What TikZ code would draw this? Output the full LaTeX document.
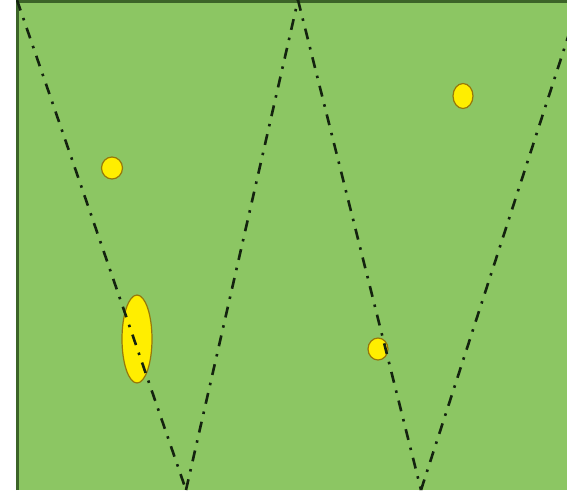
\documentclass[tikz,border=0pt]{standalone}
\usetikzlibrary{calc}
\definecolor{fieldgreen}{RGB}{140,198,99}
\definecolor{edgegreen}{RGB}{60,100,40}
\definecolor{spotfill}{RGB}{255,238,0}
\definecolor{spotedge}{RGB}{150,120,10}
\definecolor{pathcol}{RGB}{20,35,15}
\tikzset{
  field/.style={fill=fieldgreen,draw=none},
  spot/.style={fill=spotfill,draw=spotedge,line width=1.2pt},
  route/.style={draw=pathcol,line width=2.6pt,
    dash pattern=on 11pt off 8pt on 2.5pt off 8pt},
}
\begin{document}
\begin{tikzpicture}[x=1pt,y=-1pt]
\useasboundingbox (0,0) rectangle (567,490);
% field
\path[field] (16,0) rectangle (567,490);
\draw[edgegreen,line width=3pt] (17.5,490) -- (17.5,1) -- (567,1);
% spots
\path[spot] (137,339) ellipse [x radius=15,y radius=44];
\path[spot] (112,168) ellipse [x radius=10.5,y radius=11];
\path[spot] (463,96) ellipse [x radius=10,y radius=12.5];
\path[spot] (378,349) ellipse [x radius=10,y radius=11];
% routes
\coordinate (t1) at (17,0);
\coordinate (b1) at (186,490);
\coordinate (t2) at (298,0);
\coordinate (b2) at (421,490);
\coordinate (t3) at (580,0);
\begin{scope}
\clip (16,0) rectangle (567,490);
\draw[route] (t1) -- (b1);
\draw[route] (b1) -- (t2);
\draw[route] (t2) -- (b2);
\draw[route] (b2) -- (t3);
\end{scope}
\end{tikzpicture}
\end{document}
